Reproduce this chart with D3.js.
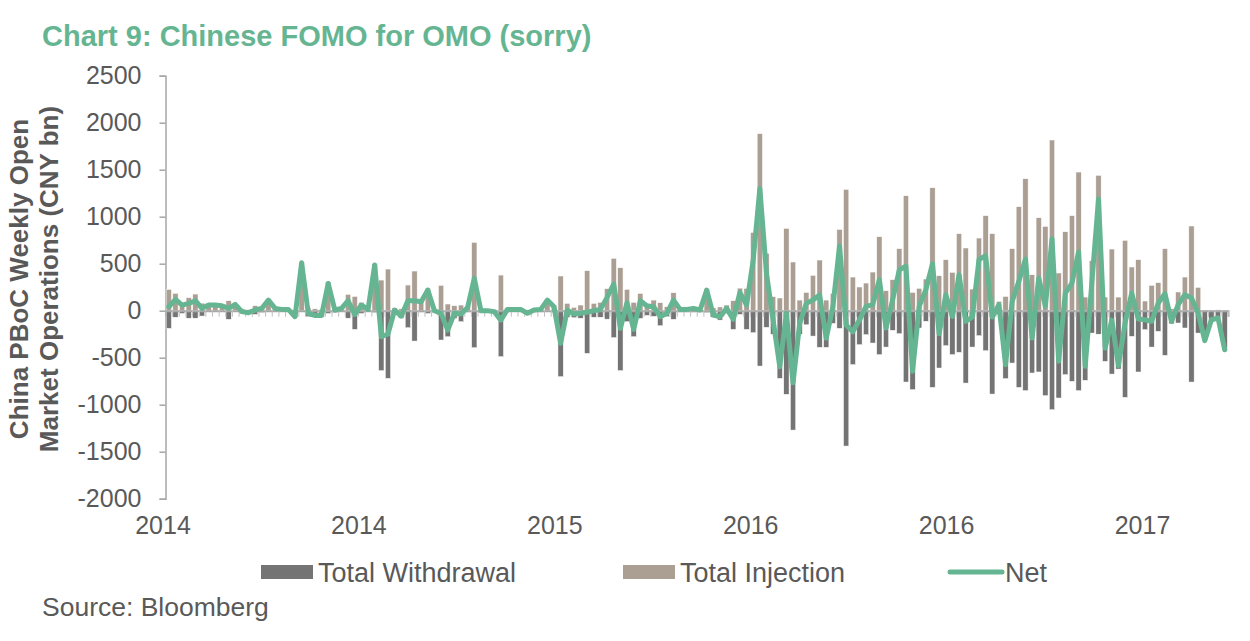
<!DOCTYPE html>
<html>
<head>
<meta charset="utf-8">
<script src="https://cdn.jsdelivr.net/npm/d3@7"></script>
<style>
  body { margin: 0; background: #fff; }
  svg text { font-family: "Liberation Sans", Arial, sans-serif; }
</style>
</head>
<body>
<svg id="chart" width="1250" height="641"></svg>
<script>
// weekly PBoC open market operations, CNY bn
var injection = [
  227,185,80,138,177,80,60,65,60,106, 70,20,10,53,40,125,30,20,20,10,
  515,35,20,15,308,20,30,174,152,89, 25,500,326,443,30,20,273,422,110,238,
  20,270,71,53,60,50,727,20,15,10, 379,30,20,15,10,20,25,125,60,369,
  78,35,60,426,78,89,234,557,457,227, 89,184,78,113,85,42,191,30,25,40,
  20,235,30,40,60,106,240,238,833,1883, 610,150,135,876,518,113,195,376,539,113,
  184,865,1291,358,252,294,411,787,213,330, 660,1223,195,238,337,1308,372,543,408,819,
  667,230,773,1011,819,100,152,660,1106,1404, 383,989,897,1816,401,840,1011,1475,145,532,
  1440,145,656,145,748,465,543,103,270,298, 660,20,199,358,901,248,5,5,10,5
];
var withdrawal = [
  -188,-70,-30,-80,-80,-57,-10,-10,-10,-92, -10,-30,-30,-40,-20,-10,-10,-10,-10,-70,
  -5,-64,-70,-65,-30,-20,-10,-80,-199,-30, -10,-20,-638,-720,-20,-80,-181,-323,-15,-30,
  -20,-312,-277,-82,-117,-15,-394,-20,-15,-20, -489,-15,-10,-10,-40,-15,-15,-10,-15,-702,
  -70,-75,-80,-454,-70,-70,-90,-287,-638,-117, -277,-82,-50,-60,-160,-64,-92,-15,-15,-15,
  -15,-20,-70,-100,-30,-199,-40,-199,-234,-589, -177,-250,-720,-890,-1270,-250,-150,-270,-390,-390,
  -135,-188,-1440,-574,-362,-255,-344,-468,-387,-209, -245,-759,-840,-184,-113,-816,-610,-372,-468,-443,
  -770,-387,-266,-426,-887,-40,-723,-557,-816,-851, -663,-652,-904,-1053,-929,-681,-752,-851,-741,-238,
  -250,-539,-674,-621,-922,-273,-652,-202,-387,-220, -475,-140,-131,-184,-759,-238,-310,-120,-80,-420
];
var net = [
  42,120,60,78,106,25,60,60,53,25, 67,-10,-21,7,25,113,25,14,14,-64,
  510,-30,-50,-50,290,7,25,106,-40,60, 14,486,-277,-248,7,-57,106,106,96,220,
  0,-28,-206,-28,-35,35,344,0,0,-10, -100,14,14,14,-28,7,14,113,42,-347,
  7,-35,-28,-15,0,14,142,284,-188,85, -199,106,50,42,-64,-28,113,14,14,25,
  7,220,-46,-64,25,-92,195,60,539,1301, 397,-100,-596,-28,-766,-135,78,113,167,-294,
  42,688,-152,-223,-100,46,64,330,-184,117, 436,472,-645,46,223,500,-245,170,-60,383,
  -113,-67,543,585,-67,64,-574,99,312,550, -291,348,46,766,-539,188,294,624,-592,300,
  1188,-397,-100,-585,-131,188,-89,-96,-113,82, 181,-113,64,170,135,-25,-319,-96,-78,-415
];

var yTicks = [2500, 2000, 1500, 1000, 500, 0, -500, -1000, -1500, -2000];
var xTickWeeks = [0, 29.5, 59, 88.5, 118, 147.5];
var xTickLabels = ["2014", "2014", "2015", "2016", "2016", "2017"];
var seriesNames = ["Total Withdrawal", "Total Injection", "Net"];

var colors = { withdrawal: "#747474", injection: "#ab9f94", net: "#66b592", text: "#595959", axis: "#a6a6a6" };

var plot = { left: 165.5, right: 1228, top: 75.7, bottom: 498.7 };

var svg = d3.select("#chart");

var y = d3.scaleLinear().domain([-2000, 2500]).range([plot.bottom, plot.top]);
var x = d3.scaleBand().domain(d3.range(injection.length)).range([plot.left, plot.right]).paddingInner(0.2).paddingOuter(0.1);
var xw = d3.scaleLinear().domain([0, injection.length]).range([plot.left, plot.right]);

// title
svg.append("text")
    .attr("x", 42).attr("y", 46)
    .style("font-size", "29px").style("font-weight", "bold")
    .attr("fill", "#66b592")
    .text("Chart 9: Chinese FOMO for OMO (sorry)");

// y axis title
var yTitle = svg.append("text")
    .attr("transform", "translate(0,279) rotate(-90)")
    .attr("text-anchor", "middle")
    .style("font-size", "26px").style("font-weight", "bold")
    .attr("fill", colors.text);
yTitle.append("tspan").attr("x", 0).attr("y", 28).text("China PBoC Weekly Open");
yTitle.append("tspan").attr("x", 0).attr("y", 58).text("Market Operations (CNY bn)");

// y axis
var yAxis = svg.append("g")
    .attr("transform", "translate(" + plot.left + ",0)")
    .call(d3.axisLeft(y).tickValues(yTicks).tickSize(6).tickPadding(18).tickFormat(function(d) { return String(d); }));
yAxis.select(".domain").attr("stroke", colors.axis).attr("stroke-width", 1.5);
yAxis.selectAll(".tick line").attr("stroke", colors.axis).attr("stroke-width", 1.5);
yAxis.selectAll(".tick text").attr("fill", colors.text).style("font-size", "25px");

// bars
svg.append("g").selectAll("rect")
    .data(withdrawal)
    .enter().append("rect")
    .attr("x", function(d, i) { return x(i); })
    .attr("y", function(d) { return y(0); })
    .attr("width", x.bandwidth())
    .attr("height", function(d) { return y(d) - y(0); })
    .attr("fill", colors.withdrawal)
    .attr("stroke", "#fff").attr("stroke-width", 0.5);

svg.append("g").selectAll("rect")
    .data(injection)
    .enter().append("rect")
    .attr("x", function(d, i) { return x(i); })
    .attr("y", function(d) { return y(d); })
    .attr("width", x.bandwidth())
    .attr("height", function(d) { return y(0) - y(d); })
    .attr("fill", colors.injection)
    .attr("stroke", "#fff").attr("stroke-width", 0.5);

// zero axis with weekly tick marks
var xAxis = svg.append("g")
    .attr("transform", "translate(0," + y(0) + ")")
    .call(d3.axisBottom(xw).tickValues(d3.range(injection.length + 1)).tickSize(6).tickFormat(""));
xAxis.select(".domain").attr("stroke", colors.axis).attr("stroke-width", 2);
xAxis.selectAll(".tick line").attr("stroke", "#bfbfbf").attr("stroke-width", 1);

// date labels along the bottom
var xLabels = svg.append("g")
    .attr("transform", "translate(-3," + plot.bottom + ")")
    .call(d3.axisBottom(xw).tickValues(xTickWeeks).tickSize(0).tickPadding(18)
      .tickFormat(function(d, i) { return xTickLabels[i]; }));
xLabels.select(".domain").remove();
xLabels.selectAll(".tick text").attr("fill", colors.text).style("font-size", "25px");

// net line
var line = d3.line()
    .x(function(d, i) { return x(i) + x.bandwidth() / 2; })
    .y(function(d) { return y(d); });

svg.append("path")
    .datum(net)
    .attr("d", line)
    .attr("fill", "none")
    .attr("stroke", colors.net)
    .attr("stroke-width", 5)
    .attr("stroke-linejoin", "round")
    .attr("stroke-linecap", "round");

// legend
var legendY = 572;
var legend = svg.append("g");
var legendItems = [
  { name: seriesNames[0], color: colors.withdrawal, type: "rect", x: 261 },
  { name: seriesNames[1], color: colors.injection, type: "rect", x: 623 },
  { name: seriesNames[2], color: colors.net, type: "line", x: 948 }
];
legendItems.forEach(function(item) {
  if (item.type === "rect") {
    legend.append("rect")
        .attr("x", item.x).attr("y", legendY - 7)
        .attr("width", 52).attr("height", 14)
        .attr("fill", item.color);
  } else {
    legend.append("line")
        .attr("x1", item.x + 2).attr("x2", item.x + 54)
        .attr("y1", legendY).attr("y2", legendY)
        .attr("stroke", item.color).attr("stroke-width", 5)
        .attr("stroke-linecap", "round");
  }
  legend.append("text")
      .attr("x", item.x + 57).attr("y", legendY + 9.5)
      .style("font-size", "27px")
      .attr("fill", colors.text)
      .text(item.name);
});

// source
svg.append("text")
    .attr("x", 42).attr("y", 616)
    .style("font-size", "26.5px")
    .attr("fill", colors.text)
    .text("Source: Bloomberg");
</script>
</body>
</html>
